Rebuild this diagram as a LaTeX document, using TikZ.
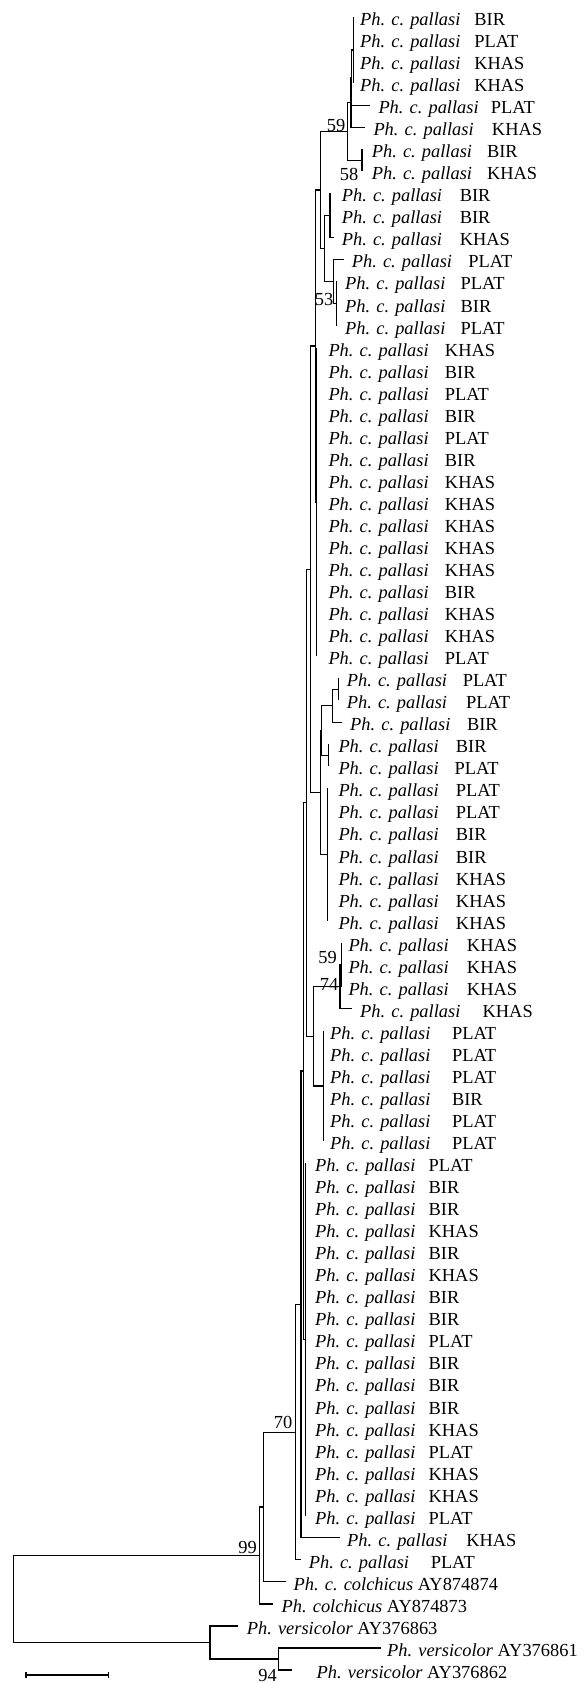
\documentclass[tikz,border=0pt]{standalone}
\usepackage{fontspec}
\setmainfont{Liberation Serif}
\tikzset{
  br/.style={line width=1.25pt},
  leaflab/.style={anchor=base west, inner sep=0pt, font=\fontsize{18.4}{20}\selectfont},
  bs/.style={anchor=base east, inner sep=0pt, font=\fontsize{18.4}{20}\selectfont},
}
% \leafat{index}{tip x}{label x}{gap before site}{site}
\newcommand\leafat[5]{%
  \coordinate (l#1) at (#2,{17+(#1-1)*22.04});
  \node[leaflab] (t#1) at (#3,{17+(#1-1)*22.04+8.5}) {\textit{Ph. c. pallasi}\hspace{#4pt}#5};}
\begin{document}
\begin{tikzpicture}[x=1pt,y=-1pt]
\useasboundingbox (0,0) rectangle (587,1683);

% ---- leaves ----
\leafat{1}{353.3}{360}{14}{BIR}
\leafat{2}{353.3}{360}{14}{PLAT}
\leafat{3}{353.3}{360}{14}{KHAS}
\leafat{4}{353.3}{360}{14}{KHAS}
\leafat{5}{370}{378.3}{12.3}{PLAT}
\leafat{6}{365}{373.3}{18.3}{KHAS}
\leafat{7}{362}{371.7}{15}{BIR}
\leafat{8}{362}{371.7}{15}{KHAS}
\leafat{9}{330}{341.7}{17.7}{BIR}
\leafat{10}{330}{341.7}{17.7}{BIR}
\leafat{11}{333.5}{341.7}{17.7}{KHAS}
\leafat{12}{344}{351.7}{16.3}{PLAT}
\leafat{13}{336.7}{345}{15.3}{PLAT}
\leafat{14}{336.7}{345}{15.3}{BIR}
\leafat{15}{336.7}{345}{15.3}{PLAT}
\leafat{16}{316.7}{328.3}{16.3}{KHAS}
\leafat{17}{316.7}{328.3}{16.3}{BIR}
\leafat{18}{316.7}{328.3}{16.3}{PLAT}
\leafat{19}{316.7}{328.3}{16.3}{BIR}
\leafat{20}{316.7}{328.3}{16.3}{PLAT}
\leafat{21}{316.7}{328.3}{16.3}{BIR}
\leafat{22}{316.7}{328.3}{16.3}{KHAS}
\leafat{23}{316.7}{328.3}{16.3}{KHAS}
\leafat{24}{316.7}{328.3}{16.3}{KHAS}
\leafat{25}{316.7}{328.3}{16.3}{KHAS}
\leafat{26}{316.7}{328.3}{16.3}{KHAS}
\leafat{27}{316.7}{328.3}{16.3}{BIR}
\leafat{28}{316.7}{328.3}{16.3}{KHAS}
\leafat{29}{316.7}{328.3}{16.3}{KHAS}
\leafat{30}{316.7}{328.3}{16.3}{PLAT}
\leafat{31}{338.3}{346.7}{15.7}{PLAT}
\leafat{32}{338.3}{346.7}{19}{PLAT}
\leafat{33}{341.7}{350}{16.7}{BIR}
\leafat{34}{328.3}{338.3}{17.3}{BIR}
\leafat{35}{328.3}{338.3}{16}{PLAT}
\leafat{36}{327.3}{338.3}{17.3}{PLAT}
\leafat{37}{327.3}{338.3}{17.3}{PLAT}
\leafat{38}{327.3}{338.3}{17.3}{BIR}
\leafat{39}{327.3}{338.3}{17.3}{BIR}
\leafat{40}{327.3}{338.3}{17.3}{KHAS}
\leafat{41}{327.3}{338.3}{17.3}{KHAS}
\leafat{42}{327.3}{338.3}{17.3}{KHAS}
\leafat{43}{341.7}{348.3}{18.3}{KHAS}
\leafat{44}{341.7}{348.3}{18.3}{KHAS}
\leafat{45}{341.7}{348.3}{18.3}{KHAS}
\leafat{46}{351.7}{360}{22.3}{KHAS}
\leafat{47}{323.3}{330}{21.7}{PLAT}
\leafat{48}{323.3}{330}{21.7}{PLAT}
\leafat{49}{323.3}{330}{21.7}{PLAT}
\leafat{50}{323.3}{330}{21.7}{BIR}
\leafat{51}{323.3}{330}{21.7}{PLAT}
\leafat{52}{323.3}{330}{21.7}{PLAT}
\leafat{53}{305.3}{315}{13.3}{PLAT}
\leafat{54}{305.3}{315}{13.3}{BIR}
\leafat{55}{305.3}{315}{13.3}{BIR}
\leafat{56}{305.3}{315}{13.3}{KHAS}
\leafat{57}{305.3}{315}{13.3}{BIR}
\leafat{58}{305.3}{315}{13.3}{KHAS}
\leafat{59}{305.3}{315}{13.3}{BIR}
\leafat{60}{305.3}{315}{13.3}{BIR}
\leafat{61}{305.3}{315}{13.3}{PLAT}
\leafat{62}{305.3}{315}{13.3}{BIR}
\leafat{63}{305.3}{315}{13.3}{BIR}
\leafat{64}{305.3}{315}{13.3}{BIR}
\leafat{65}{305.3}{315}{13.3}{KHAS}
\leafat{66}{305.3}{315}{13.3}{PLAT}
\leafat{67}{305.3}{315}{13.3}{KHAS}
\leafat{68}{305.3}{315}{13.3}{KHAS}
\leafat{69}{305.3}{315}{13.3}{PLAT}
\leafat{70}{340.3}{347}{19}{KHAS}
\leafat{71}{301}{308.7}{21.7}{PLAT}

\coordinate (l72) at (285.5,1581.84);
\node[leaflab] (t72) at (293.5,1590.34) {\textit{Ph. c. colchicus} AY874874};
\coordinate (l73) at (273.3,1603.88);
\node[leaflab] (t73) at (281.5,1612.38) {\textit{Ph. colchicus} AY874873};
\coordinate (l74) at (238.3,1625.92);
\node[leaflab] (t74) at (246.7,1634.42) {\textit{Ph. versicolor} AY376863};
\coordinate (l75) at (380.5,1647.96);
\node[leaflab] (t75) at (387,1656.46) {\textit{Ph. versicolor} AY376861};
\coordinate (l76) at (292,1670);
\node[leaflab] (t76) at (316.5,1678.5) {\textit{Ph. versicolor} AY376862};

% ---- internal nodes ----
\coordinate (g1)    at (353.3,50.06);
\coordinate (T1a)   at (351.7,77.61);
\coordinate (T1)    at (351.0,102.41);
\coordinate (n58)   at (362.0,160.26);
\coordinate (A)     at (347.7,131.33);
\coordinate (n330)  at (330.0,215.36);
\coordinate (n3367) at (336.7,303.52);
\coordinate (n333)  at (333.3,281.48);
\coordinate (L)     at (324.3,248.42);
\coordinate (K)     at (320.7,189.88);
\coordinate (g16)   at (316.7,501.88);
\coordinate (U)     at (315.7,345.88);
\coordinate (n338)  at (338.3,689.22);
\coordinate (n3327) at (332.7,705.75);
\coordinate (n3283) at (328.3,755.34);
\coordinate (M1)    at (321.5,730.55);
\coordinate (g36)   at (327.3,854.52);
\coordinate (M)     at (320.7,792.54);
\coordinate (P)     at (310.7,569.21);
\coordinate (n59)   at (341.7,964.72);
\coordinate (n74)   at (340.0,986.76);
\coordinate (g47)   at (323.3,1085.94);
\coordinate (Q)     at (313.3,1036.35);
\coordinate (N306)  at (306.8,802.78);
\coordinate (g53)   at (305.3,1339.4);
\coordinate (R)     at (303.3,1071.09);
\coordinate (S)     at (301.0,1304.43);
\coordinate (n70)   at (295.5,1432.11);
\coordinate (T)     at (263.3,1506.98);
\coordinate (n99)   at (259.3,1555.43);
\coordinate (n94)   at (278.3,1658.98);
\coordinate (V)     at (210.0,1642.45);
\coordinate (root)  at (13.3,1598.94);

% ---- branches ----
\foreach \i in {1,...,4} \draw[br] (g1) |- (l\i);
\draw[br] (T1a) |- (g1);  \draw[br] (T1a) |- (l5);
\draw[br] (T1) |- (T1a);  \draw[br] (T1) |- (l6);
\draw[br] (n58) |- (l7);  \draw[br] (n58) |- (l8);
\draw[br] (A) |- (T1);    \draw[br] (A) |- (n58);
\foreach \i in {9,10,11} \draw[br] (n330) |- (l\i);
\foreach \i in {13,14,15} \draw[br] (n3367) |- (l\i);
\draw[br] (n333) |- (l12); \draw[br] (n333) |- (n3367);
\draw[br] (L) |- (n330);  \draw[br] (L) |- (n333);
\draw[br] (K) |- (A);     \draw[br] (K) |- (L);
\foreach \i in {16,...,30} \draw[br] (g16) |- (l\i);
\draw[br] (U) |- (K);     \draw[br] (U) |- (g16);
\draw[br] (n338) |- (l31); \draw[br] (n338) |- (l32);
\draw[br] (n3327) |- (n338); \draw[br] (n3327) |- (l33);
\draw[br] (n3283) |- (l34); \draw[br] (n3283) |- (l35);
\draw[br] (M1) |- (n3327); \draw[br] (M1) |- (n3283);
\foreach \i in {36,...,42} \draw[br] (g36) |- (l\i);
\draw[br] (M) |- (M1);    \draw[br] (M) |- (g36);
\draw[br] (P) |- (U);     \draw[br] (P) |- (M);
\foreach \i in {43,44,45} \draw[br] (n59) |- (l\i);
\draw[br] (n74) |- (n59); \draw[br] (n74) |- (l46);
\foreach \i in {47,...,52} \draw[br] (g47) |- (l\i);
\draw[br] (Q) |- (n74);   \draw[br] (Q) |- (g47);
\draw[br] (N306) |- (P);  \draw[br] (N306) |- (Q);
\foreach \i in {53,...,69} \draw[br] (g53) |- (l\i);
\draw[br] (R) |- (N306);  \draw[br] (R) |- (g53);
\draw[br] (S) |- (R);     \draw[br] (S) |- (l70);
\draw[br] (n70) |- (S);   \draw[br] (n70) |- (l71);
\draw[br] (T) |- (n70);   \draw[br] (T) |- (l72);
\draw[br] (n99) |- (T);   \draw[br] (n99) |- (l73);
\draw[br] (n94) |- (l75); \draw[br] (n94) |- (l76);
\draw[br] (V) |- (l74);   \draw[br] (V) |- (n94);
\draw[br] (root) |- (n99); \draw[br] (root) |- (V);

% ---- bootstrap values ----
\node[bs] (b59a) at (345.5,131.7) {59};
\node[bs] (b58)  at (358.5,180) {58};
\node[bs] (b53)  at (333.5,305) {53};
\node[bs] (b59b) at (337,963.5) {59};
\node[bs] (b74)  at (338.5,990) {74};
\node[bs] (b70)  at (292.5,1428) {70};
\node[bs] (b99)  at (257,1553.5) {99};
\node[bs] (b94)  at (277,1681) {94};

% ---- scale bar ----
\coordinate (sb1) at (26,1675);
\coordinate (sb2) at (108.3,1675);
\draw[br] (sb1) -- (sb2);
\draw[br] ([yshift=3pt]sb1) -- ([yshift=-3pt]sb1);
\draw[br] ([yshift=3pt]sb2) -- ([yshift=-3pt]sb2);
\end{tikzpicture}
\end{document}
